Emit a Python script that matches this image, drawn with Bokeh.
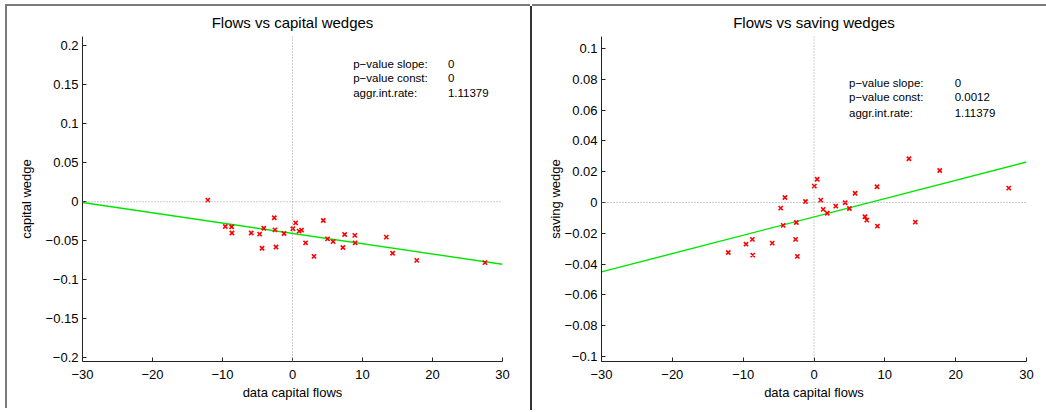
from bokeh.plotting import figure
from bokeh.models import Range1d, FixedTicker, Span, Label
from bokeh.layouts import row
from bokeh.embed import file_html
from bokeh.resources import INLINE

# ---------------- data ----------------
flows = [-12.1, -9.6, -8.7, -8.65, -5.9, -4.7, -4.1, -4.35, -2.6, -2.5, -2.35, -1.2,
         0.05, 0.45, 0.95, 1.3, 1.87, 3.07, 4.4, 5.0, 5.8, 7.2, 7.45, 8.9, 8.95,
         13.4, 14.3, 17.75, 27.5]
capital_wedge = [0.002, -0.0317, -0.032, -0.040, -0.040, -0.0415, -0.034, -0.0595,
                 -0.0205, -0.036, -0.058, -0.0406, -0.0346, -0.027, -0.0376, -0.0363,
                 -0.0526, -0.070, -0.024, -0.0475, -0.051, -0.0586, -0.042, -0.043,
                 -0.0526, -0.0453, -0.066, -0.075, -0.078]
saving_wedge = [-0.0325, -0.0271, -0.024, -0.0342, -0.0264, -0.0037, 0.0032, -0.0149,
                -0.024, -0.013, -0.035, 0.0006, 0.0106, 0.0151, 0.0015, -0.0045,
                -0.007, -0.0024, -0.0002, -0.0039, 0.006, -0.0093, -0.0115, 0.0102,
                -0.0154, 0.0284, -0.0128, 0.0208, 0.0093]

# fitted lines (intercept, slope)
capital_fit = (-0.0405, -0.00132)
saving_fit = (-0.0094, 0.00119)
fit_x = [-30, 30]

x_ticks = [-30, -20, -10, 0, 10, 20, 30]
x_tick_labels = ["\u221230", "\u221220", "\u221210", "0", "10", "20", "30"]
cap_ticks = [-0.2, -0.15, -0.1, -0.05, 0, 0.05, 0.1, 0.15, 0.2]
cap_tick_labels = ["\u22120.2", "\u22120.15", "\u22120.1", "\u22120.05", "0",
                   "0.05", "0.1", "0.15", "0.2"]
sav_ticks = [-0.1, -0.08, -0.06, -0.04, -0.02, 0, 0.02, 0.04, 0.06, 0.08, 0.1]
sav_tick_labels = ["\u22120.1", "\u22120.08", "\u22120.06", "\u22120.04", "\u22120.02", "0",
                   "0.02", "0.04", "0.06", "0.08", "0.1"]

stat_names = ["p\u2212value slope:", "p\u2212value const:", "aggr.int.rate:"]
capital_stats = ["0", "0", "1.11379"]
saving_stats = ["0", "0.0012", "1.11379"]

titles = ["Flows vs capital wedges", "Flows vs saving wedges"]
x_label = "data capital flows"
y_labels = ["capital wedge", "saving wedge"]

FONT = "Liberation Sans"


def make_panel(title, ylab, yvals, fit, yticks, ylabels, yrange, stats,
               stat_x, stat_vx, stat_y, width, border_left, border_right,
               frame_w, ylab_standoff, styles):
    p = figure(width=width, height=404, frame_width=frame_w, frame_height=325,
               min_border_left=border_left, min_border_right=border_right,
               min_border_top=30, min_border_bottom=49,
               x_range=Range1d(-30, 30), y_range=Range1d(*yrange),
               output_backend="svg", toolbar_location=None, title=title)
    p.styles = styles
    p.outline_line_color = None
    p.background_fill_color = "white"
    p.border_fill_color = "white"
    p.grid.visible = False
    p.title.text_font = FONT
    p.title.text_font_size = "15px"
    p.title.text_font_style = "normal"
    p.title.align = "center"
    p.title.text_color = "black"
    p.title.standoff = 11

    for ax in (p.xaxis[0], p.yaxis[0]):
        ax.major_tick_in = 4
        ax.major_tick_out = 0
        ax.minor_tick_in = 0
        ax.minor_tick_out = 0
        ax.axis_line_color = "#222222"
        ax.major_tick_line_color = "#222222"
        ax.major_label_text_font = FONT
        ax.major_label_text_font_size = "13px"
        ax.major_label_text_color = "black"
        ax.axis_label_text_font = FONT
        ax.axis_label_text_font_size = "13px"
        ax.axis_label_text_font_style = "normal"
        ax.axis_label_text_color = "black"

    p.xaxis.ticker = FixedTicker(ticks=x_ticks)
    p.xaxis.major_label_overrides = dict(zip(x_ticks, x_tick_labels))
    p.xaxis.axis_label = x_label
    p.xaxis.major_label_standoff = 8
    p.xaxis.axis_label_standoff = 3

    p.yaxis.ticker = FixedTicker(ticks=yticks)
    p.yaxis.major_label_overrides = dict(zip(yticks, ylabels))
    p.yaxis.axis_label = ylab
    p.yaxis.major_label_standoff = 4
    p.yaxis.axis_label_standoff = ylab_standoff

    p.add_layout(Span(location=0, dimension="width", line_color="#999999",
                      line_dash="1 2", line_width=1))
    p.add_layout(Span(location=0, dimension="height", line_color="#999999",
                      line_dash="1 2", line_width=1))

    a, b = fit
    p.line(fit_x, [a + b * xv for xv in fit_x], line_color="#00e600", line_width=1.4)
    p.scatter(flows, yvals, marker="x", size=6, line_color="red", line_width=1.6)

    for name, val, yy in zip(stat_names, stats, stat_y):
        p.add_layout(Label(x=stat_x, y=yy, text=name, text_font=FONT,
                           text_font_size="11.5px", text_baseline="middle",
                           text_color="black"))
        p.add_layout(Label(x=stat_vx, y=yy, text=val, text_font=FONT,
                           text_font_size="11.5px", text_baseline="middle",
                           text_color="black"))
    return p


p1 = make_panel(titles[0], y_labels[0], capital_wedge, capital_fit, cap_ticks,
                cap_tick_labels, (-0.2045, 0.2115), capital_stats,
                8.67, 22.2, [0.1769, 0.1584, 0.1398],
                525, 75, 30, 420, 9,
                {"box-shadow": "-2px -2px 0 0 #7a7a7a"})
p2 = make_panel(titles[1], y_labels[1], saving_wedge, saving_fit, sav_ticks,
                sav_tick_labels, (-0.1033, 0.1078), saving_stats,
                4.94, 19.86, [0.0779, 0.0682, 0.0584],
                514, 69, 20, 425, -1,
                {"box-shadow": "0 -2px 0 0 #7a7a7a, -2px 0 0 0 #333333"})

layout = row(p1, p2, margin=(6, 0, 0, 7))
open("out.html", "w").write(file_html(layout, INLINE))
